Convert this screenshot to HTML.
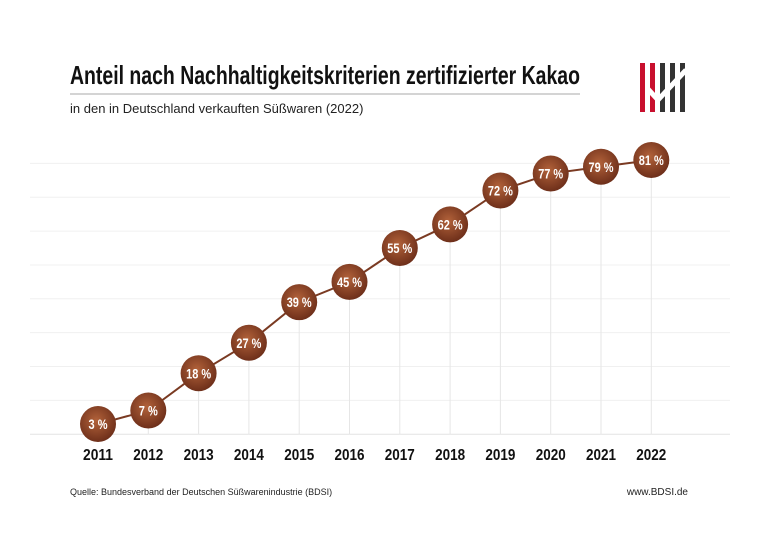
<!DOCTYPE html>
<html><head><meta charset="utf-8"><style>
body{margin:0;background:#fff;width:760px;height:550px;overflow:hidden}
svg{display:block}
.t{font-family:"Liberation Sans Narrow","Liberation Sans",sans-serif;font-weight:bold}
.s{font-family:"Liberation Sans",sans-serif}
</style></head><body>
<svg id="c" width="760" height="550">
<text x="70" y="84" class="t" font-size="26" fill="#111" textLength="510" lengthAdjust="spacingAndGlyphs">Anteil nach Nachhaltigkeitskriterien zertifizierter Kakao</text>
<line x1="70" y1="94" x2="580" y2="94" stroke="#aaa"/>
<text x="70" y="113" class="s" font-size="13" fill="#222">in den in Deutschland verkauften Süßwaren (2022)</text>
<g>
<rect x="640" y="63" width="5" height="49" fill="#c8102e"/><rect x="650" y="63" width="5" height="49" fill="#c8102e"/>
<rect x="660" y="63" width="5" height="49" fill="#333"/><rect x="670" y="63" width="5" height="49" fill="#333"/><rect x="680" y="63" width="5" height="49" fill="#333"/>
<path d="M647 88 L658 100 L686 70" stroke="#fff" stroke-width="5" fill="none"/>
</g>
<g id="grid"></g><g id="marks"></g>
<text x="70" y="495" class="s" font-size="9" fill="#222">Quelle: Bundesverband der Deutschen Süßwarenindustrie (BDSI)</text>
<text x="688" y="495" class="s" font-size="10" fill="#222" text-anchor="end">www.BDSI.de</text>
<defs><radialGradient id="g" cx="0.45" cy="0.4" r="0.6"><stop offset="0" stop-color="#b2623a"/><stop offset="1" stop-color="#6e2f1a"/></radialGradient></defs>
</svg>
<script>
const years=["2011","2012","2013","2014","2015","2016","2017","2018","2019","2020","2021","2022"];
const values=[3,7,18,27,39,45,55,62,72,77,79,81];
const gridTicks=[0,10,20,30,40,50,60,70,80];
const NS="http://www.w3.org/2000/svg";
const x=i=>98+i*50.3;
const y=v=>434.2-3.385*v;
const grid=document.getElementById('grid'),marks=document.getElementById('marks');
function mk(t,a,p){const e=document.createElementNS(NS,t);for(const k in a)e.setAttribute(k,a[k]);p.appendChild(e);return e;}
gridTicks.forEach(t=>{const l=mk('line',{x1:30,x2:730,y1:y(t),y2:y(t),stroke:t===0?'#e4e4e4':'#f0f0f0'},grid);

});
values.forEach((v,i)=>{const l=mk('line',{x1:x(i),x2:x(i),y1:y(v),y2:y(0),stroke:'#e6e6e6'},grid);


const yl=mk('text',{x:x(i)-15,y:460,'font-size':16,fill:'#111',class:'t',textLength:30,lengthAdjust:'spacingAndGlyphs'},marks);yl.textContent=years[i];

});
const pl=mk('polyline',{points:values.map((v,i)=>x(i)+','+y(v)).join(' '),fill:'none',stroke:'#7a3a22','stroke-width':2},marks);


values.forEach((v,i)=>{const c=mk('circle',{cx:x(i),cy:y(v),r:18,fill:'url(#g)'},marks);


const w=String(v).length>1?25:19;
const t=mk('text',{x:x(i)-w/2,y:y(v)+5,'font-size':14,fill:'#fff',class:'t',textLength:w,lengthAdjust:'spacingAndGlyphs'},marks);t.textContent=v+' %';

});
</script>
</body></html>
